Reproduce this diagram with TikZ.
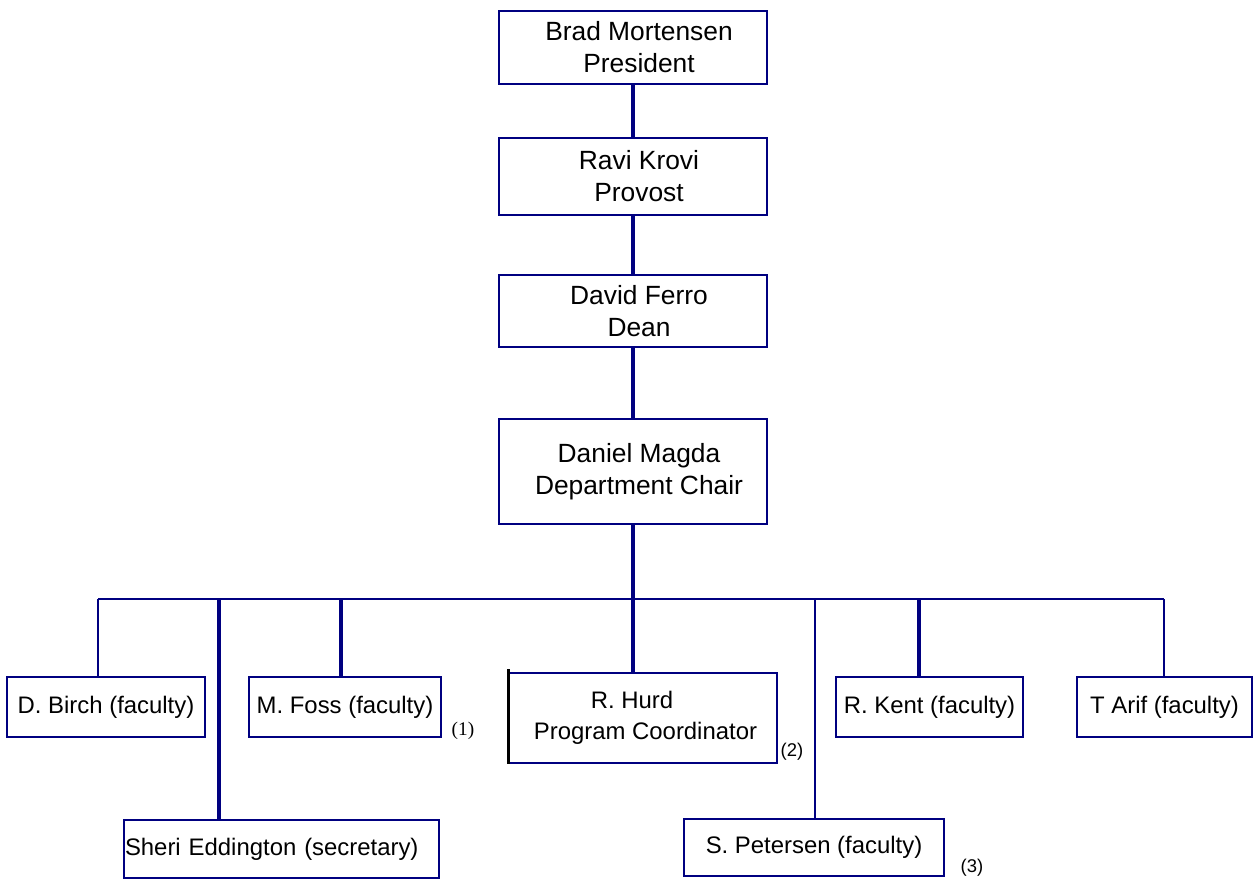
\documentclass[tikz,border=0pt]{standalone}
\usepackage{fontspec}
\setmainfont{Liberation Sans}
\newfontfamily\notefont{Liberation Serif}
\usepackage{xcolor}
\definecolor{navy}{RGB}{0,0,128}
\usetikzlibrary{calc}

\begin{document}
\begin{tikzpicture}[x=0.02cm, y=-0.02cm,
  post/.style={draw=navy, line width=1.1pt, fill=white, inner sep=0pt, align=center, font=\fontsize{13.6}{17.5}\selectfont},
  head post/.style={post, font=\fontsize{15}{18.2}\selectfont},
  link/.style={draw=navy, line width=2pt},
  thin link/.style={draw=navy, line width=1.2pt},
  note/.style={inner sep=0pt, font=\fontsize{10.5}{12}\selectfont}]
\useasboundingbox (0,0) rectangle (1254,879);
\foreach \name/\y/\h/\txt in {pres/47.5/73/{\hspace*{0.24cm}Brad Mortensen\\\hspace*{0.24cm}President},
  prov/176.5/77/{\hspace*{0.24cm}Ravi Krovi\\\hspace*{0.24cm}Provost},
  dean/311/72/{\hspace*{0.24cm}David Ferro\\\hspace*{0.24cm}Dean},
  chair/471.5/105/{\hspace*{0.24cm}Daniel Magda\\\hspace*{0.24cm}Department Chair}}{
\node[head post, minimum width=268*0.02cm, minimum height=\h*0.02cm] (\name) at (633,\y) {\txt};
}
\foreach \name/\x/\y/\w/\h/\txt in {birch/106/707/198/60/{D. Birch (faculty)}, foss/345/707/192/60/{M. Foss (faculty)},
  hurd/643/718/268/90/{R. Hurd\hspace*{0.44cm}\\\hspace*{0.1cm}Program Coordinator}, kent/929.5/707/187/60/{R. Kent (faculty)},
  arif/1164.5/707/175/60/{T Arif (faculty)}, peter/814/847.5/260/57/{S. Petersen (faculty)}}{
\node[post, minimum width=\w*0.02cm, minimum height=\h*0.02cm] (\name) at (\x,\y) {\txt};
}
\node[post, text width=313*0.02cm, align=left, inner xsep=0.02cm, minimum height=58*0.02cm] (sheri) at (281.5,849) {Sheri Eddington (secretary)};
\draw[black, line width=1.7pt] ($(hurd.north west)+(0,-3)$) -- (hurd.south west);
% chain of command
\draw[link] (pres.south) -- (prov.north);
\draw[link] (prov.south) -- (dean.north);
\draw[link] (dean.south) -- (chair.north);
\coordinate (bus) at (633,599);
\coordinate (busL) at (98,599);
\coordinate (busR) at (1164,599);
\draw[link] (chair.south) -- (bus);
\draw[draw=navy, line width=1.4pt] (busL) -- (busR);
\foreach \child/\tx/\kind in {birch/98/thin link, sheri/219/link, foss/341/link, hurd/633/link,
  peter/815/thin link, kent/919/link, arif/1164/thin link}{
\coordinate (tap-\child) at (\tx,599);
\draw[\kind] (tap-\child) -- (tap-\child |- \child.north);
}
\node[note, font=\notefont\fontsize{11}{13}\selectfont] (note1) at (463,731) {(1)};
\node[note] (note2) at (792,751.5) {(2)};
\node[note] (note3) at (972,868) {(3)};
\end{tikzpicture}
\end{document}
